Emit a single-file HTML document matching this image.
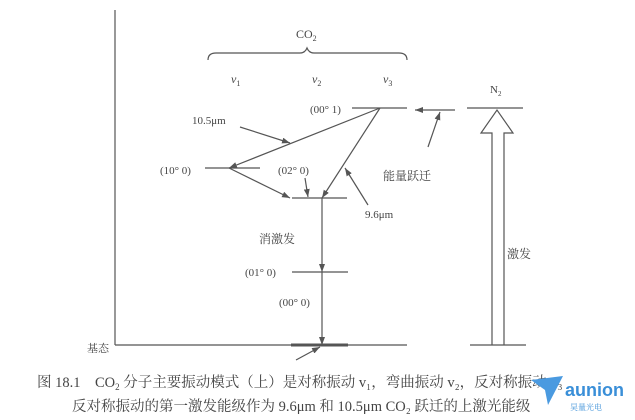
<!DOCTYPE html>
<html><head><meta charset="utf-8"><style>
body{margin:0;background:#fff;width:635px;height:420px;overflow:hidden}
svg{display:block}
text{font-family:"Liberation Serif","Noto Serif CJK SC",serif;fill:#444}
</style></head><body>
<svg width="635" height="420" viewBox="0 0 635 420">
<defs><marker id="a" markerWidth="8" markerHeight="6" refX="8" refY="3" orient="auto" markerUnits="userSpaceOnUse"><path d="M0,0 L8,3 L0,6 z" fill="#555"/></marker></defs>
<g stroke="#555" stroke-width="1.2" fill="none">
<line x1="115" y1="10" x2="115" y2="345"/>
<line x1="115" y1="345" x2="407" y2="345"/>
<line x1="291" y1="345" x2="348" y2="345" stroke-width="3"/>
<line x1="296" y1="360" x2="320" y2="347" marker-end="url(#a)"/>
<path d="M208,60 Q208,53 216,53 L300,53 Q305,53 307,48 Q309,53 314,53 L399,53 Q407,53 407,60"/>
<line x1="352" y1="108" x2="407" y2="108"/>
<line x1="455" y1="110" x2="415" y2="110" marker-end="url(#a)"/>
<line x1="428" y1="147" x2="440" y2="112" marker-end="url(#a)"/>
<line x1="467" y1="108" x2="523" y2="108"/>
<line x1="205" y1="168" x2="260" y2="168"/>
<line x1="380" y1="108" x2="229" y2="168" marker-end="url(#a)"/>
<line x1="240" y1="127" x2="290" y2="143" marker-end="url(#a)"/>
<line x1="229" y1="168" x2="290" y2="198" marker-end="url(#a)"/>
<line x1="292" y1="198" x2="347" y2="198"/>
<line x1="305" y1="178" x2="308" y2="197" marker-end="url(#a)"/>
<line x1="380" y1="108" x2="322" y2="198" marker-end="url(#a)"/>
<line x1="368" y1="205" x2="345" y2="168" marker-end="url(#a)"/>
<line x1="322" y1="198" x2="322" y2="272" marker-end="url(#a)"/>
<line x1="322" y1="272" x2="322" y2="345" marker-end="url(#a)"/>
<line x1="292" y1="272" x2="348" y2="272"/>
<line x1="470" y1="345" x2="526" y2="345"/>
<path d="M492,345 L492,133 L481,133 L497,110 L513,133 L504,133 L504,345"/>
</g>
<text x="296" y="38" font-size="12">CO<tspan font-size="8" dy="3">2</tspan></text>
<text x="231" y="83" font-size="12" font-style="italic">v<tspan font-size="8" dy="3" font-style="normal">1</tspan></text>
<text x="312" y="83" font-size="12" font-style="italic">v<tspan font-size="8" dy="3" font-style="normal">2</tspan></text>
<text x="383" y="83" font-size="12" font-style="italic">v<tspan font-size="8" dy="3" font-style="normal">3</tspan></text>
<text x="310" y="113" font-size="11">(00° 1)</text>
<text x="192" y="124" font-size="11">10.5μm</text>
<text x="160" y="174" font-size="11">(10° 0)</text>
<text x="278" y="174" font-size="11">(02° 0)</text>
<text x="383" y="180" font-size="12">能量跃迁</text>
<text x="365" y="218" font-size="11">9.6μm</text>
<text x="259" y="243" font-size="12">消激发</text>
<text x="245" y="276" font-size="11">(01° 0)</text>
<text x="279" y="306" font-size="11">(00° 0)</text>
<text x="87" y="352" font-size="11">基态</text>
<text x="490" y="93" font-size="11">N<tspan font-size="7" dy="3">2</tspan></text>
<text x="507" y="258" font-size="12">激发</text>
<text x="37" y="387" font-size="14.5">图 18.1　CO<tspan font-size="9" dy="3">2</tspan><tspan dy="-3"> 分子主要振动模式（上）是对称振动 v₁，弯曲振动 v₂，反对称振动 v₃</tspan></text>
<text x="72" y="411" font-size="14.5">反对称振动的第一激发能级作为 9.6μm 和 10.5μm CO₂ 跃迁的上激光能级</text>
<path d="M531,380 L563,376 L548,405 L545,390 z" fill="#4a9ae0"/>
<text x="565" y="396" font-size="18" font-weight="bold" style="fill:#3a8fd8;font-family:'Liberation Sans',sans-serif">aunion</text>
<text x="570" y="410" font-size="8" style="fill:#3a8fd8">昊量光电</text>
</svg>
</body></html>
